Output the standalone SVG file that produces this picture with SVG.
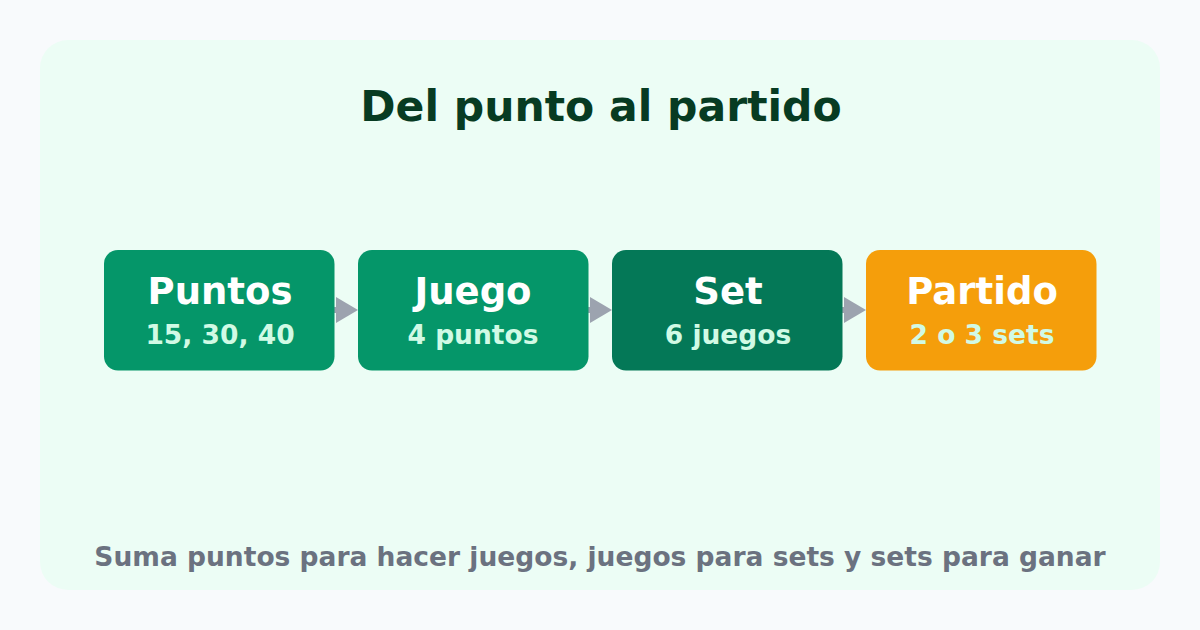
<svg xmlns="http://www.w3.org/2000/svg" width="1200" height="630" viewBox="0 0 1200 630">
<defs>
<style>
.t{font-family:"DejaVu Sans",sans-serif;font-weight:bold;text-anchor:middle}
.nt{font-size:37px;fill:#ffffff}
.ns{font-size:26.5px;fill:#d1fae5}
.c{stroke:#9ca3af;stroke-width:6;stroke-linecap:round;fill:none}
</style>
<marker id="ah" markerUnits="userSpaceOnUse" markerWidth="22" markerHeight="26" refX="0" refY="13" orient="auto" viewBox="0 0 22 26">
<polygon points="0,0 22,13 0,26" fill="#9ca3af"/>
</marker>
</defs>
<rect width="1200" height="630" fill="#f8fafc"/>
<rect x="40" y="40" width="1120" height="550" rx="28" fill="#ecfdf5"/>
<text class="t" x="601" y="120.5" font-size="42.5" fill="#073b22">Del punto al partido</text>
<g id="connectors">
<path class="c" d="M332 310 L336 310" marker-end="url(#ah)"/>
<path class="c" d="M586 310 L590 310" marker-end="url(#ah)"/>
<path class="c" d="M840 310 L844 310" marker-end="url(#ah)"/>
</g>
<g id="puntos">
<rect x="104" y="250" width="230.5" height="120.5" rx="14" fill="#059669"/>
<text class="t nt" x="220" y="304">Puntos</text>
<text class="t ns" x="220" y="343.5">15, 30, 40</text>
</g>
<g id="juego">
<rect x="358" y="250" width="230.5" height="120.5" rx="14" fill="#059669"/>
<text class="t nt" x="473" y="304">Juego</text>
<text class="t ns" x="473" y="343.5">4 puntos</text>
</g>
<g id="set">
<rect x="612" y="250" width="230.5" height="120.5" rx="14" fill="#047857"/>
<text class="t nt" x="728" y="304">Set</text>
<text class="t ns" x="728" y="343.5">6 juegos</text>
</g>
<g id="partido">
<rect x="866" y="250" width="230.5" height="120.5" rx="14" fill="#f59e0b"/>
<text class="t nt" x="982" y="304">Partido</text>
<text class="t ns" x="982" y="343.5">2 o 3 sets</text>
</g>
<text class="t" x="600" y="566" font-size="26.5" fill="#6b7280">Suma puntos para hacer juegos, juegos para sets y sets para ganar</text>
</svg>
